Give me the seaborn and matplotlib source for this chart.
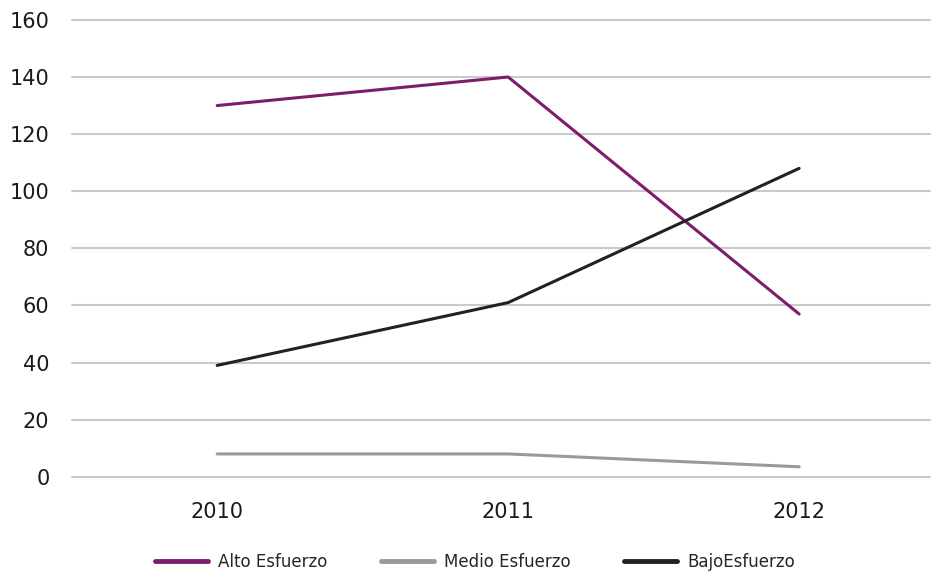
import matplotlib
matplotlib.use("Agg")
import matplotlib.pyplot as plt
import seaborn as sns
import pandas as pd

# Data
years = ["2010", "2011", "2012"]
alto_esfuerzo = [130, 140, 57]
medio_esfuerzo = [8, 8, 3.5]
bajo_esfuerzo = [39, 61, 108]
series_names = ["Alto Esfuerzo", "Medio Esfuerzo", "BajoEsfuerzo"]
y_ticks = [0, 20, 40, 60, 80, 100, 120, 140, 160]

df = pd.DataFrame({
    "year": years * 3,
    "value": alto_esfuerzo + medio_esfuerzo + bajo_esfuerzo,
    "serie": [s for s in series_names for _ in years],
})
df["x"] = df["year"].map({y: i for i, y in enumerate(years)})

sns.set_theme(style="white")
plt.rcParams["font.family"] = ["Liberation Sans Narrow", "DejaVu Sans"]

fig = plt.figure(figsize=(9.31, 5.85), dpi=100)
ax = fig.add_axes([0.077, 0.185, 0.922, 0.781])

palette = {"Alto Esfuerzo": "#7d1d6c", "Medio Esfuerzo": "#9a9a9a", "BajoEsfuerzo": "#222222"}
sns.lineplot(data=df, x="x", y="value", hue="serie", palette=palette,
             linewidth=2.2, ax=ax, legend=False)

ax.set_xlim(-0.5, 2.45)
ax.set_ylim(0, 160)
ax.set_yticks(y_ticks)
ax.set_yticklabels([str(t) for t in y_ticks], fontsize=15, color="#1a1a1a", fontweight="medium")
ax.set_xticks(range(len(years)))
ax.set_xticklabels(years, fontsize=15, color="#1a1a1a", fontweight="medium")
ax.tick_params(axis="x", length=0, pad=18)
ax.tick_params(axis="y", length=0, pad=16)
ax.yaxis.grid(True, color="#cacaca", linewidth=1.5)
ax.xaxis.grid(False)
ax.set_axisbelow(True)
for gl in ax.get_ygridlines():
    gl.set_clip_on(False)
for sp in ax.spines.values():
    sp.set_visible(False)
ax.set_xlabel("")
ax.set_ylabel("")

handles = [plt.Line2D([], [], color=palette[s], linewidth=3.5) for s in series_names]
fig.legend(handles, series_names, loc="center", bbox_to_anchor=(0.51, 0.04), ncol=3,
           frameon=False, fontsize=12, handlelength=3.2, columnspacing=3.2,
           handletextpad=0.6)

fig.savefig("out.png", dpi=100)
